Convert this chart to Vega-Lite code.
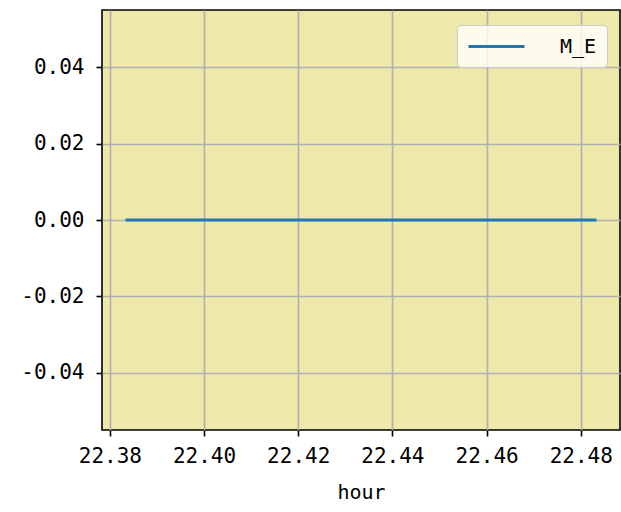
{
  "$schema": "https://vega.github.io/schema/vega-lite/v6.json",
  "width": 518,
  "height": 420,
  "autosize": "none",
  "padding": {"left": 102, "top": 10, "right": 1, "bottom": 82},
  "background": "white",
  "data": {
    "values": [
      {"hour": 22.38333, "value": 0, "series": "M_E"},
      {"hour": 22.4, "value": 0, "series": "M_E"},
      {"hour": 22.41667, "value": 0, "series": "M_E"},
      {"hour": 22.43333, "value": 0, "series": "M_E"},
      {"hour": 22.45, "value": 0, "series": "M_E"},
      {"hour": 22.46667, "value": 0, "series": "M_E"},
      {"hour": 22.48333, "value": 0, "series": "M_E"}
    ]
  },
  "mark": {"type": "line", "strokeWidth": 3, "clip": true},
  "encoding": {
    "x": {
      "field": "hour",
      "type": "quantitative",
      "scale": {"domain": [22.37833, 22.48833], "nice": false, "zero": false},
      "axis": {
        "title": "hour",
        "values": [22.38, 22.40, 22.42, 22.44, 22.46, 22.48],
        "labelExpr": "format(datum.value, '.2f')",
        "labelPadding": 9,
        "titleFont": "DejaVu Sans Mono",
        "titleFontSize": 20,
        "titleFontWeight": "normal",
        "titleColor": "black",
        "titlePadding": 16
      }
    },
    "y": {
      "field": "value",
      "type": "quantitative",
      "scale": {"domain": [-0.055, 0.055], "nice": false, "zero": false},
      "axis": {
        "title": null,
        "values": [-0.04, -0.02, 0, 0.02, 0.04],
        "labelPadding": 12,
        "labelExpr": "replace(format(datum.value, '.2f'), '\u2212', '-')"
      }
    },
    "color": {
      "field": "series",
      "type": "nominal",
      "scale": {"range": ["#1f77b4"]},
      "legend": {
        "title": null,
        "orient": "none",
        "legendX": 355,
        "legendY": 15,
        "symbolType": "M-1,0L4.6,0",
        "symbolSize": 400,
        "symbolStrokeWidth": 3,
        "symbolFillColor": "transparent",
        "labelOffset": 70,
        "labelFont": "DejaVu Sans Mono",
        "labelFontSize": 20,
        "labelColor": "black",
        "padding": 10,
        "fillColor": "rgba(255,255,255,0.8)",
        "strokeColor": "#cccccc",
        "cornerRadius": 4
      }
    }
  },
  "config": {
    "view": {"fill": "#EEE8AA", "stroke": "black", "strokeWidth": 1.6},
    "axis": {
      "domain": false,
      "grid": true,
      "gridColor": "#b0b0b0",
      "gridWidth": 1.6,
      "tickColor": "black",
      "tickWidth": 1.6,
      "tickSize": 6,
      "labelFont": "DejaVu Sans Mono",
      "labelFontSize": 21,
      "labelColor": "black"
    }
  }
}
